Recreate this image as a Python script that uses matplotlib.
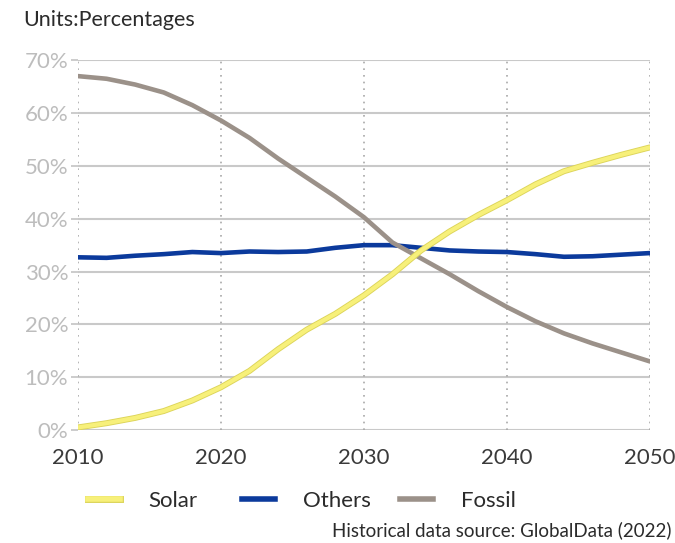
import matplotlib.pyplot as plt
import matplotlib.patheffects as pe
from matplotlib.lines import Line2D

plt.rcParams['font.family'] = ['Lato', 'DejaVu Sans']

years = [2010, 2012, 2014, 2016, 2018, 2020, 2022, 2024, 2026, 2028, 2030,
         2032, 2034, 2036, 2038, 2040, 2042, 2044, 2046, 2048, 2050]
solar = [0.5, 1.3, 2.3, 3.6, 5.6, 8.1, 11.2, 15.3, 19.0, 22.0, 25.5,
         29.5, 34.0, 37.6, 40.7, 43.5, 46.5, 49.0, 50.6, 52.1, 53.5]
others = [32.7, 32.6, 33.0, 33.3, 33.7, 33.5, 33.8, 33.7, 33.8, 34.5, 35.0,
          35.0, 34.5, 34.0, 33.8, 33.7, 33.3, 32.8, 32.9, 33.2, 33.5]
fossil = [67.0, 66.5, 65.4, 63.9, 61.5, 58.6, 55.3, 51.4, 47.8, 44.2, 40.3,
          35.5, 32.5, 29.5, 26.3, 23.3, 20.6, 18.3, 16.4, 14.7, 13.0]

x_ticks = [2010, 2020, 2030, 2040, 2050]
y_ticks = [0, 10, 20, 30, 40, 50, 60, 70]

c_solar = '#f7f07a'
c_others = '#0b3a9c'
c_fossil = '#9b9189'

fig = plt.figure(figsize=(6.75, 5.43), dpi=100)
ax = fig.add_axes([0.1156, 0.208, 0.847, 0.681])

# grid
for y in y_ticks:
    ax.axhline(y, color='#c9c9c9', lw=1.5, zorder=1)
for x in x_ticks:
    ax.axvline(x, color='#a8a8a8', lw=1.2, ls=(0, (1, 3)), zorder=1)

ax.plot(years, others, color=c_others, lw=3.3, zorder=3, solid_capstyle='round')
ax.plot(years, fossil, color=c_fossil, lw=3.3, zorder=4, solid_capstyle='round')
ax.plot(years, solar, color=c_solar, lw=3.0, zorder=5, solid_capstyle='round',
        path_effects=[pe.Stroke(linewidth=4.3, foreground='#dcd45a'), pe.Normal()])

ax.set_xlim(2010, 2050)
ax.set_ylim(0, 70)
ax.set_xticks(x_ticks)
ax.set_yticks(y_ticks)
ax.set_yticklabels([f'{v}%' for v in y_ticks])
ax.tick_params(axis='y', colors='#c4c4c4', labelcolor='#bdbdbd', labelsize=16,
               length=5, width=1.2, pad=2)
ax.tick_params(axis='x', length=0, labelcolor='#3a3a3a', labelsize=16, pad=13)
for s in ax.spines.values():
    s.set_visible(False)

fig.text(0.035, 0.963, 'Units:Percentages', fontsize=15.5, color='#2b2b2b',
         va='center', ha='left')

# one legend per entry so the uneven spacing of the original can be kept
handles = [Line2D([], [], color=c_solar, lw=4,
                  path_effects=[pe.Stroke(linewidth=5, foreground='#dcd45a'), pe.Normal()]),
           Line2D([], [], color=c_others, lw=4),
           Line2D([], [], color=c_fossil, lw=4)]
labels = ['Solar', 'Others', 'Fossil']
for h, lab, x0 in zip(handles, labels, [0.1, 0.3296, 0.5637]):
    fig.legend([h], [lab], loc='center left', bbox_to_anchor=(x0, 0.077),
               frameon=False, fontsize=16, handlelength=1.45, handletextpad=1.28,
               labelcolor='#2b2b2b')

fig.text(0.995, 0.024, 'Historical data source: GlobalData (2022)', fontsize=13.5,
         color='#2b2b2b', ha='right', va='center')

fig.savefig('out.png', dpi=100)
